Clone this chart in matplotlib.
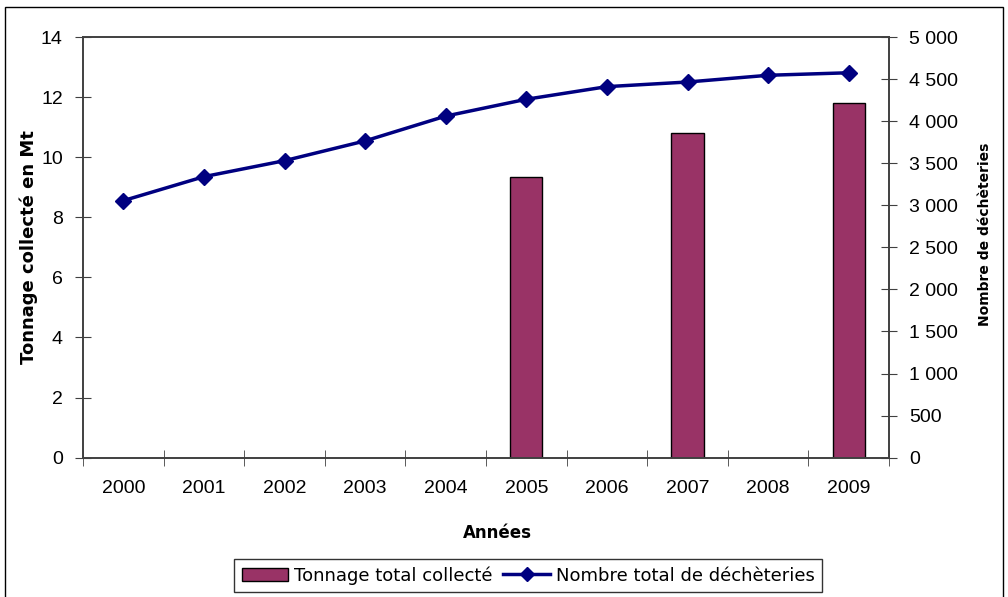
import matplotlib

matplotlib.use("Agg")
import matplotlib.pyplot as plt
from matplotlib.lines import Line2D
from matplotlib.patches import Patch, Rectangle
from matplotlib.ticker import FuncFormatter, FixedLocator, MultipleLocator

# Data
years = ["2000", "2001", "2002", "2003", "2004", "2005", "2006", "2007", "2008", "2009"]
tonnage_mt = [None, None, None, None, None, 9.35, None, 10.8, None, 11.8]
nb_decheteries = [3055, 3340, 3530, 3765, 4060, 4260, 4410, 4465, 4545, 4575]

bar_label = "Tonnage total collecté"
line_label = "Nombre total de déchèteries"

BAR_COLOR = "#993366"
LINE_COLOR = "#000080"
AXIS_COLOR = "#404040"

W, H = 1008, 597
fig = plt.figure(figsize=(W / 100, H / 100), dpi=100)
ax = fig.add_axes([83 / W, 1 - 457.7 / H, (889 - 83) / W, (457.7 - 37) / H])
ax2 = ax.twinx()

x = list(range(len(years)))
bar_x = [i for i, v in zip(x, tonnage_mt) if v is not None]
bar_h = [v for v in tonnage_mt if v is not None]
ax.bar(bar_x, bar_h, width=0.4, color=BAR_COLOR, edgecolor="black", linewidth=1.0, zorder=2)

ax2.plot(x, nb_decheteries, color=LINE_COLOR, linewidth=2.5, marker="D",
         markersize=8.5, markerfacecolor=LINE_COLOR, markeredgecolor=LINE_COLOR, zorder=3)

ax.set_xlim(-0.5, len(years) - 0.5)
ax.set_ylim(0, 14)
ax2.set_ylim(0, 5000)

TICK_SIZE = 14

ax.set_xticks(x)
ax.set_xticklabels(years, family="Liberation Sans", size=TICK_SIZE)
ax.xaxis.set_minor_locator(FixedLocator([i - 0.5 for i in range(len(years) + 1)]))
ax.tick_params(axis="x", which="major", length=0, pad=16)
ax.tick_params(axis="x", which="minor", direction="inout", length=11, color=AXIS_COLOR)

ax.yaxis.set_major_locator(MultipleLocator(2))
ax.tick_params(axis="y", direction="inout", length=11, color=AXIS_COLOR, pad=9)
for lab in ax.get_yticklabels():
    lab.set_fontfamily("Liberation Sans")
    lab.set_fontsize(TICK_SIZE)

ax2.yaxis.set_major_locator(MultipleLocator(500))
ax2.yaxis.set_major_formatter(FuncFormatter(lambda v, _: f"{int(v):,}".replace(",", " ")))
ax2.tick_params(axis="y", direction="inout", length=11, color=AXIS_COLOR, pad=9)
for lab in ax2.get_yticklabels():
    lab.set_fontfamily("Liberation Sans")
    lab.set_fontsize(TICK_SIZE)

for a in (ax, ax2):
    for s in a.spines.values():
        s.set_color(AXIS_COLOR)
        s.set_linewidth(1.2)

ax.set_ylabel("Tonnage collecté en Mt", fontsize=13, fontweight="bold", labelpad=2)
ax2.set_ylabel("Nombre de déchèteries", fontsize=10, fontweight="bold")
ax2.yaxis.set_label_coords(1 + (978 - 889) / (889 - 83), 0.53)
fig.text(497 / W, 1 - 533 / H, "Années", ha="center", va="center",
         fontsize=12, fontweight="bold")

handles = [
    Patch(facecolor=BAR_COLOR, edgecolor="black", linewidth=1.0),
    Line2D([], [], color=LINE_COLOR, linewidth=2.5, marker="D", markersize=7),
]
fig.legend(handles, [bar_label, line_label], loc="center", ncol=2,
           bbox_to_anchor=(528 / W, 1 - 575.5 / H), frameon=True, fancybox=False,
           edgecolor="black", fontsize=13, handlelength=2.6, handletextpad=0.3,
           columnspacing=0.6, borderpad=0.4)

# outer chart frame
fig.patches.append(Rectangle((5 / W, -0.05), (1003 - 5) / W, 1.05 - 7 / H,
                             transform=fig.transFigure, fill=False,
                             edgecolor="black", linewidth=1.0))

fig.savefig("out.png", dpi=100)
